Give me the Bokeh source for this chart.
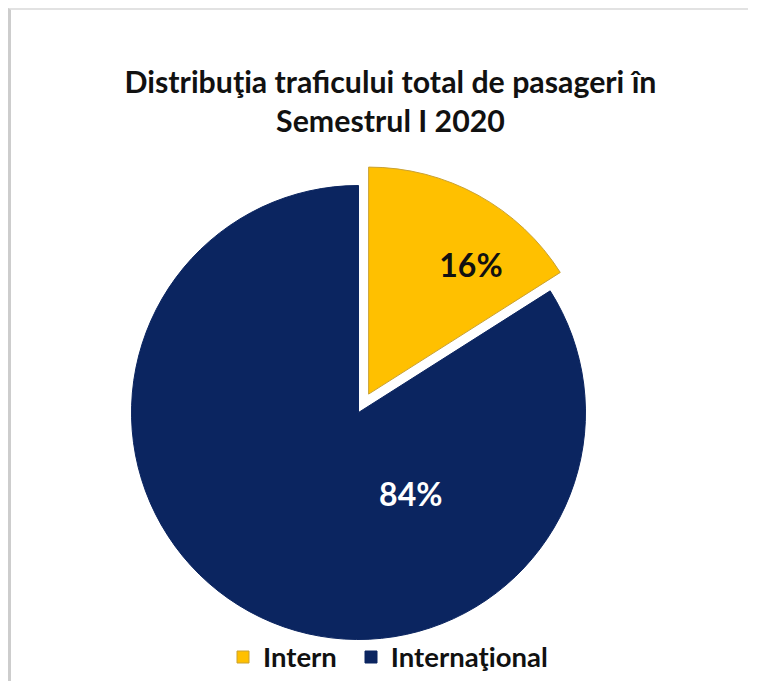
import math
from bokeh.plotting import figure
from bokeh.models import Range1d, Label, Legend, LegendItem, ColumnDataSource
from bokeh.embed import file_html
from bokeh.resources import INLINE
from bokeh.core.properties import value

# ---- data ----
categories = ["Intern", "Internaţional"]
shares = [16, 84]
pct_labels = ["16%", "84%"]
title_lines = ["Distribuţia traficului total de pasageri în", "Semestrul I 2020"]

# ---- styles ----
colors = ["#FFC000", "#0B2560"]
edge_colors = ["#C9A133", "#0B2560"]
label_colors = ["#111111", "#FFFFFF"]
explode = [21, 0]
label_r_frac = [0.726, 0.426]
label_ang_deg = [51.6, -57.3]
FONT = "Lato"

W, H = 740, 673
CX, CY, R = 347, 271, 227

p = figure(width=W, height=H, output_backend="svg", toolbar_location=None,
           x_range=Range1d(0, W), y_range=Range1d(0, H),
           min_border=0, min_border_left=0, min_border_right=0,
           min_border_top=0, min_border_bottom=0)
p.axis.visible = False
p.grid.visible = False
p.outline_line_color = None
p.background_fill_color = "white"
p.border_fill_color = "white"
p.styles = {"margin-left": "8px", "margin-top": "8px",
            "border-left": "3px solid #cdcdcd", "border-top": "2px solid #e2e2e2"}

total = float(sum(shares))
xs, ys, starts, ends, lx, ly = [], [], [], [], [], []
cum = 0.0
for i, s in enumerate(shares):
    a0 = math.pi / 2 - cum / total * 2 * math.pi
    a1 = a0 - s / total * 2 * math.pi
    mid = (a0 + a1) / 2
    cx = CX + explode[i] * math.cos(mid)
    cy = CY + explode[i] * math.sin(mid)
    xs.append(cx); ys.append(cy)
    starts.append(a1); ends.append(a0)
    la = math.radians(label_ang_deg[i])
    lx.append(cx + R * label_r_frac[i] * math.cos(la))
    ly.append(cy + R * label_r_frac[i] * math.sin(la))
    cum += s

src = ColumnDataSource(dict(x=xs, y=ys, start=starts, end=ends, color=colors,
                            edge=edge_colors, cat=categories, lx=lx, ly=ly,
                            lab=pct_labels, lc=label_colors))

wedges = p.wedge(x="x", y="y", radius=R, start_angle="start", end_angle="end",
                 fill_color="color", line_color="edge", line_width=1, source=src)

p.text(x="lx", y="ly", text="lab", text_color="lc", source=src,
       text_font=value(FONT), text_font_style="bold", text_font_size="32px",
       text_align="center", text_baseline="middle")

# title
for j, t in enumerate(title_lines):
    p.add_layout(Label(x=379, y=603 - 39 * j, text=t, text_font=FONT,
                       text_font_style="bold", text_font_size="30.3px",
                       text_color="#111111", text_align="center",
                       text_baseline="middle"))

legend = Legend(items=[LegendItem(label=categories[i], renderers=[wedges], index=i)
                       for i in range(len(categories))],
                orientation="horizontal", location=(224, 10),
                glyph_width=15, glyph_height=15, label_standoff=13, spacing=26,
                padding=0, margin=0, border_line_color=None,
                background_fill_alpha=0,
                label_text_font=FONT, label_text_font_style="bold",
                label_text_font_size="27.5px", label_text_color="#111111")
p.add_layout(legend)

open("out.html", "w").write(file_html(p, INLINE))
